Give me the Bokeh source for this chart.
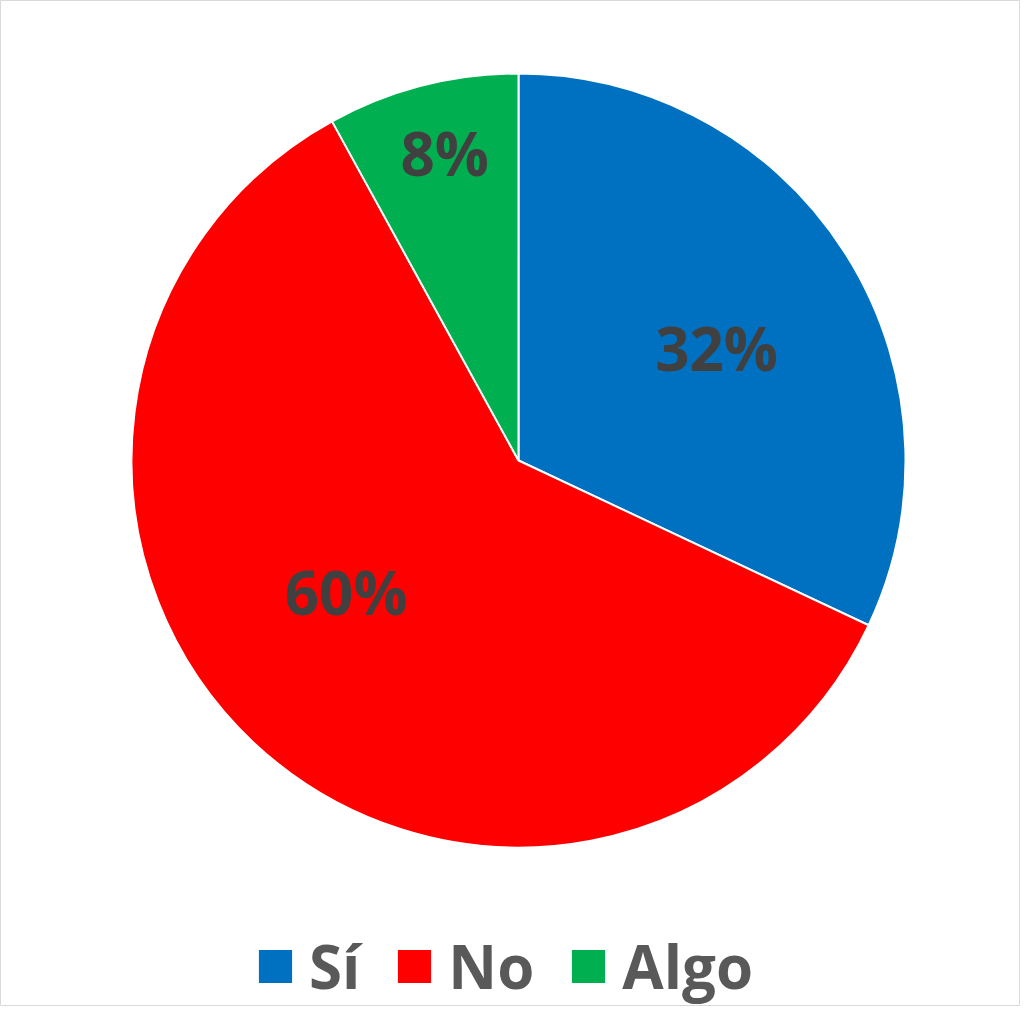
import numpy as np
from bokeh.plotting import figure
from bokeh.models import Range1d, ColumnDataSource, Legend, LegendItem
from bokeh.embed import file_html
from bokeh.resources import INLINE
from bokeh.core.properties import value

categories = ["Sí", "No", "Algo"]
shares = [32, 60, 8]
colors = ["#0070C0", "#FF0000", "#00B050"]

FONT = "Open Sans"
W, H = 1020, 1006
p = figure(width=W, height=H, x_range=Range1d(0, W), y_range=Range1d(0, H),
           output_backend="svg", toolbar_location=None, min_border=0)
p.axis.visible = False
p.grid.visible = False
p.outline_line_color = "#D9D9D9"
p.background_fill_color = "white"

cx, cy, rad = 518, 546, 387
frac = np.array(shares, dtype=float) / sum(shares)
ends = np.pi / 2 - 2 * np.pi * np.cumsum(frac)
starts = np.concatenate([[np.pi / 2], ends[:-1]])
mids = (starts + ends) / 2

# label placement style (angle tweak in degrees, radius fraction)
ang_tweak = np.deg2rad([-3.6, -8.7, -0.7])
r_frac = [0.584, 0.566, 0.806]
lx = cx + np.array(r_frac) * rad * np.cos(mids + ang_tweak)
ly = cy + np.array(r_frac) * rad * np.sin(mids + ang_tweak)

src = ColumnDataSource(dict(
    cat=categories, start=starts, end=ends, color=colors,
    lx=lx, ly=ly, lab=[f"{s}%" for s in shares],
))

w = p.wedge(x=cx, y=cy, radius=rad, start_angle="start", end_angle="end",
            direction="clock", fill_color="color", line_color="white",
            line_width=2, source=src)

p.text(x="lx", y="ly", text="lab", source=src, text_align="center",
       text_baseline="middle", y_offset=-4, text_font=value(FONT),
       text_font_size="60px", text_font_style="bold", text_color="#404040")

items = [LegendItem(label=c, renderers=[w], index=i) for i, c in enumerate(categories)]
legend = Legend(items=items, orientation="horizontal", location=(253, -1),
                glyph_width=44, glyph_height=44, label_height=34,
                label_text_font=FONT, label_text_font_size="60px",
                label_text_font_style="bold", label_text_color="#595959",
                label_text_baseline="middle",
                label_standoff=12, spacing=32, padding=0, margin=0,
                border_line_color=None, background_fill_alpha=0)
p.add_layout(legend, "center")

open("out.html", "w").write(file_html(p, INLINE))
